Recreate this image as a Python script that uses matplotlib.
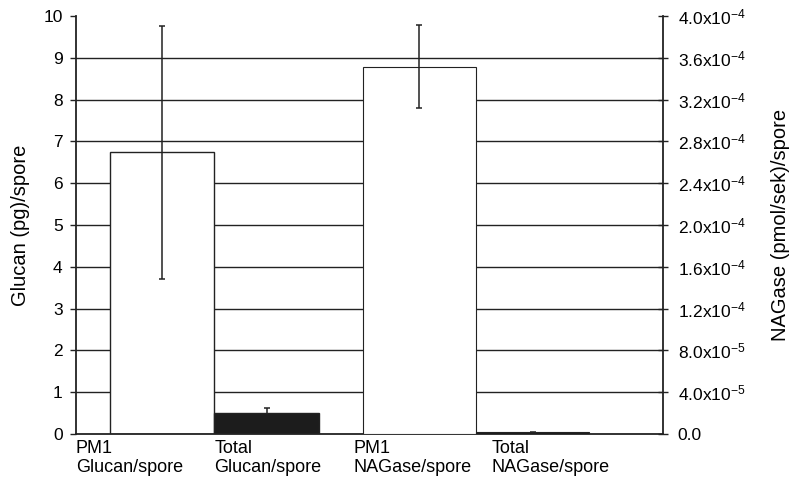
import numpy as np
import matplotlib
matplotlib.use("Agg")
import matplotlib.pyplot as plt
from matplotlib.ticker import FuncFormatter

plt.rcParams["font.family"] = ["Liberation Sans", "DejaVu Sans"]
plt.rcParams["mathtext.fontset"] = "custom"
plt.rcParams["mathtext.rm"] = "Liberation Sans"
plt.rcParams["mathtext.it"] = "Liberation Sans"
plt.rcParams["mathtext.bf"] = "Liberation Sans"
plt.rcParams["mathtext.default"] = "regular"

# data
categories = ["PM1\nGlucan/spore", "Total\nGlucan/spore",
              "PM1\nNAGase/spore", "Total\nNAGase/spore"]
glucan = [6.735, 0.50]            # pg per spore (left axis)
glucan_err_low = [3.03, 0.0]
glucan_err_high = [3.03, 0.13]
nagase = [3.516e-4, 1.5e-6]       # pmol/sek per spore (right axis)
nagase_err = [0.395e-4, 0.5e-6]
bar_colors = ["white", "#1c1c1c"]

left_ticks = list(range(0, 11))
right_ticks = [i * 4e-5 for i in range(11)]


def sci_label(v, pos):
    if v == 0:
        return "0.0"
    exp = int(np.floor(np.log10(v) + 1e-9))
    mant = v / 10 ** exp
    return f"{mant:.1f}x10$^{{{exp}}}$"


fig = plt.figure(figsize=(7.89, 4.87), dpi=100)
ax = fig.add_axes([0.0959, 0.1088, 0.7444, 0.8583])
ax2 = ax.twinx()

# bar layout (two groups of two)
group_centers = [0.933, 2.721]
group_widths = [0.714, 0.775]

x1 = [group_centers[0] - group_widths[0] / 2, group_centers[0] + group_widths[0] / 2]
x2 = [group_centers[1] - group_widths[1] / 2, group_centers[1] + group_widths[1] / 2]

err_style = dict(fmt="none", ecolor="#222222", elinewidth=1.1,
                 capsize=2.5, capthick=1.1, zorder=3)

ax.set_axisbelow(True)
ax.bar(x1, glucan, width=group_widths[0], color=bar_colors,
       edgecolor="#222222", linewidth=1.0, zorder=2)
for i in range(len(x1)):
    eb = ax.errorbar(x1[i], glucan[i],
                     yerr=[[glucan_err_low[i]], [glucan_err_high[i]]], **err_style)
    if glucan_err_low[i] == 0:
        # only the upper whisker is shown on this bar
        eb[1][0].set_visible(False)

ax2.bar(x2, nagase, width=group_widths[1], color=bar_colors,
        edgecolor="#222222", linewidth=0.8, zorder=2)
ax2.errorbar(x2, nagase, yerr=nagase_err, **err_style)

ax.set_xlim(0, 4)
ax.set_ylim(0, 10)
ax2.set_ylim(0, 4e-4)

ax.set_yticks(left_ticks)
ax.yaxis.grid(True, color="#222222", linewidth=1.0)
ax.get_ygridlines()[-1].set_visible(False)
ax.get_ygridlines()[0].set_visible(False)

ax2.set_yticks(right_ticks)
ax2.yaxis.set_major_formatter(FuncFormatter(sci_label))

# x labels are left aligned under the bars
label_pos = [-0.016, 0.933, 1.887, 2.827]
ax.set_xticks(label_pos)
ax.set_xticklabels(categories, ha="left", fontsize=13, linespacing=1.15)
ax.tick_params(axis="x", length=0, pad=4.5)
ax.tick_params(axis="y", direction="out", length=4.3, width=1.0,
               labelsize=12.5, pad=5, color="#222222")
ax2.tick_params(axis="y", direction="inout", length=7, width=1.0,
                labelsize=12.5, pad=7, color="#222222")

for a in (ax, ax2):
    a.spines["top"].set_visible(False)
    for s in a.spines.values():
        s.set_linewidth(1.3)
        s.set_color("#222222")
ax.spines["right"].set_visible(False)
ax2.spines["left"].set_visible(False)
ax2.spines["bottom"].set_visible(False)

fig.text(21 / 789, 1 - 225 / 487, "Glucan (pg)/spore", rotation=90,
         ha="center", va="center", fontsize=14.5)
fig.text(780 / 789, 1 - 225 / 487, "NAGase (pmol/sek)/spore", rotation=90,
         ha="center", va="center", fontsize=14.5)

fig.savefig("out.png", dpi=100)
